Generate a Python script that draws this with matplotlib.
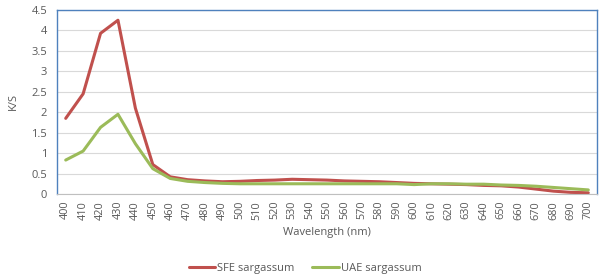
import matplotlib.pyplot as plt
import numpy as np

plt.rcParams['font.family'] = ['Open Sans', 'DejaVu Sans']

wavelengths = list(range(400, 701, 10))
sfe = [1.85, 2.45, 3.93, 4.25, 2.10, 0.72, 0.42, 0.35, 0.32, 0.30, 0.31,
       0.33, 0.34, 0.36, 0.35, 0.34, 0.32, 0.31, 0.30, 0.28, 0.26, 0.25,
       0.24, 0.23, 0.21, 0.20, 0.17, 0.12, 0.07, 0.04, 0.03]
uae = [0.83, 1.05, 1.63, 1.95, 1.23, 0.62, 0.38, 0.31, 0.28, 0.26, 0.25,
       0.25, 0.25, 0.25, 0.25, 0.25, 0.25, 0.25, 0.25, 0.25, 0.23, 0.25,
       0.25, 0.24, 0.24, 0.22, 0.21, 0.19, 0.16, 0.13, 0.10]
yticks = [0, 0.5, 1, 1.5, 2, 2.5, 3, 3.5, 4, 4.5]
ytick_labels = ['0', '0.5', '1', '1.5', '2', '2.5', '3', '3.5', '4', '4.5']

fig = plt.figure(figsize=(6.07, 2.8), dpi=100)
ax = fig.add_axes([57 / 607, 1 - 194 / 280, 540 / 607, 184 / 280])

x = np.arange(len(wavelengths))
ax.plot(x, sfe, color='#C0504D', lw=2.2, label='SFE sargassum', solid_capstyle='round')
ax.plot(x, uae, color='#9BBB59', lw=2.2, label='UAE sargassum', solid_capstyle='round')

ax.set_xlim(-0.5, len(wavelengths) - 0.5)
ax.set_ylim(0, 4.5)
ax.set_xticks(x)
ax.set_xticklabels([str(w) for w in wavelengths], rotation=90, fontsize=7.8, color='#595959')
ax.set_yticks(yticks)
ax.set_yticklabels(ytick_labels, fontsize=8, color='#595959')
ax.tick_params(axis='y', length=0, pad=7)
ax.tick_params(axis='x', length=0, pad=5)
ax.grid(axis='y', color='#D9D9D9', lw=0.8)
ax.set_axisbelow(True)

for side in ['top', 'left', 'right']:
    ax.spines[side].set_color('#4F81BD')
    ax.spines[side].set_linewidth(1.0)
ax.spines['bottom'].set_color('#BFBFBF')

ax.set_xlabel('Wavelength (nm)', fontsize=8, color='#595959', labelpad=5)
ax.set_ylabel('K/S', fontsize=8, color='#595959', labelpad=9)

fig.legend(loc='center', bbox_to_anchor=(305 / 607, 1 - 268 / 280), ncol=2,
           frameon=False, fontsize=8, handlelength=2.4, columnspacing=1.6,
           handletextpad=0.15, labelcolor='#595959')

fig.savefig('out.png', dpi=100)
